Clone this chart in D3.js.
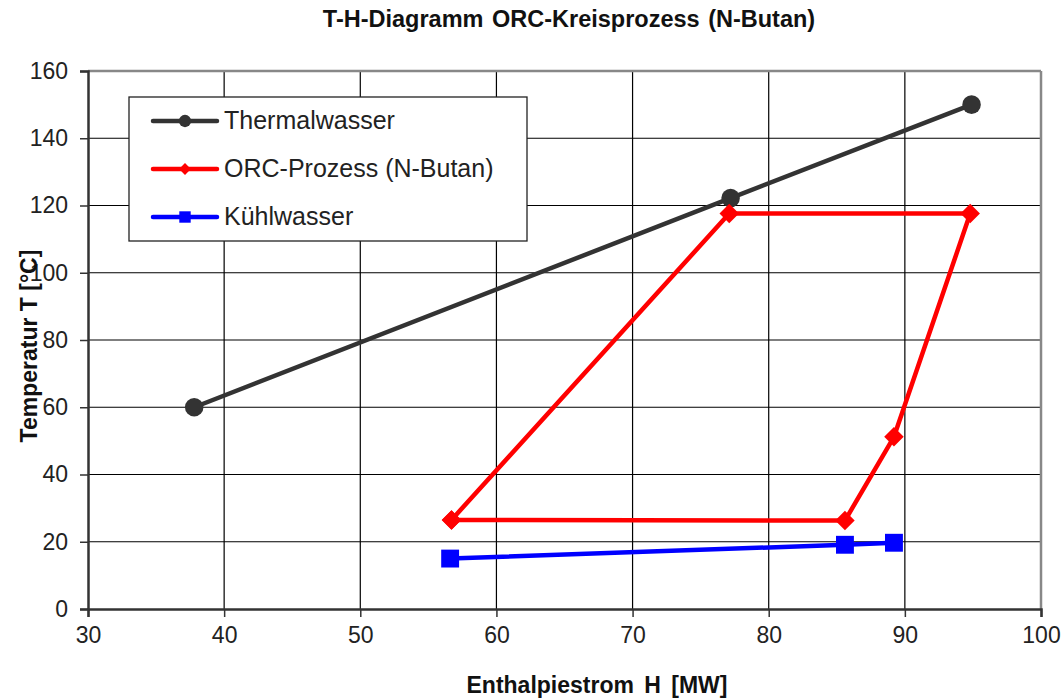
<!DOCTYPE html>
<html><head><meta charset="utf-8">
<script src="https://cdn.jsdelivr.net/npm/d3@7"></script>
<style>body{margin:0;background:#fff}svg{display:block}text{font-family:"Liberation Sans",Arial,sans-serif}</style>
</head><body>
<svg id="c" width="1062" height="698"></svg>
<script>
const xTicks = [30,40,50,60,70,80,90,100];
const yTicks = [0,20,40,60,80,100,120,140,160];
const thermalH = [37.8, 77.2, 94.9];
const thermalT = [60, 122.2, 150];
const orcH = [56.7, 77.1, 94.8, 89.2, 85.6, 56.7];
const orcT = [26.5, 117.6, 117.6, 51.2, 26.3, 26.5];
const coolH = [56.6, 85.6, 89.2];
const coolT = [15, 19.1, 19.7];
const seriesNames = ["Thermalwasser", "ORC-Prozess (N-Butan)", "Kühlwasser"];
const seriesColors = ["#333333", "#ff0000", "#0000ff"];

const svg = d3.select("#c");
const L=88, R=1041, T=71, B=609;
const x = d3.scaleLinear().domain([30,100]).range([L,R]);
const y = d3.scaleLinear().domain([0,160]).range([B,T]);

// grid
svg.append("g").selectAll("line").data(xTicks.slice(1,-1)).join("line")
  .attr("x1",d=>x(d)).attr("x2",d=>x(d)).attr("y1",T).attr("y2",B)
  .attr("stroke","#000").attr("stroke-width",1.2);
svg.append("g").selectAll("line").data(yTicks.slice(1,-1)).join("line")
  .attr("y1",d=>y(d)).attr("y2",d=>y(d)).attr("x1",L).attr("x2",R)
  .attr("stroke","#000").attr("stroke-width",1.2);
// border
svg.append("line").attr("x1",L).attr("x2",R).attr("y1",T).attr("y2",T).attr("stroke","#888").attr("stroke-width",2.5);
svg.append("line").attr("x1",R).attr("x2",R).attr("y1",T).attr("y2",B).attr("stroke","#888").attr("stroke-width",2.5);

// axes
const xa = svg.append("g").attr("transform",`translate(0,${B})`)
  .call(d3.axisBottom(x).tickValues(xTicks).tickSize(8).tickPadding(10));
const ya = svg.append("g").attr("transform",`translate(${L},0)`)
  .call(d3.axisLeft(y).tickValues(yTicks).tickSize(8).tickPadding(12));
[xa,ya].forEach(a=>{
  a.select(".domain").attr("stroke","#333").attr("stroke-width",2.5);
  a.selectAll(".tick line").attr("stroke","#333").attr("stroke-width",1.5);
  a.selectAll("text").attr("font-size",23).attr("fill","#222")
   .attr("font-family",'"Liberation Sans",Arial,sans-serif');
});

// titles
svg.append("text").attr("x",569).attr("y",27).attr("text-anchor","middle")
  .attr("font-size",23.5).attr("font-weight","bold").attr("fill","#111")
  .attr("word-spacing",2)
  .text("T-H-Diagramm ORC-Kreisprozess (N-Butan)");
svg.append("text").attr("x",597).attr("y",693).attr("text-anchor","middle")
  .attr("font-size",23).attr("font-weight","bold").attr("fill","#111")
  .attr("word-spacing",4)
  .text("Enthalpiestrom H [MW]");
svg.append("text").attr("transform","translate(37,346) rotate(-90)").attr("text-anchor","middle")
  .attr("font-size",23).attr("font-weight","bold").attr("fill","#111")
  .text("Temperatur T [°C]");

const line = d3.line().x(d=>x(d[0])).y(d=>y(d[1]));
const sets = [d3.zip(thermalH,thermalT), d3.zip(orcH,orcT), d3.zip(coolH,coolT)];
const shapes = [d3.symbolCircle, d3.symbolSquare, d3.symbolSquare];
const rots = [0, 45, 0];
const sizes = [270, 190, 320];
sets.forEach((pts,i)=>{
  svg.append("path").datum(pts).attr("d",line).attr("fill","none")
    .attr("stroke",seriesColors[i]).attr("stroke-width",4.5).attr("stroke-linejoin","round");
  svg.append("g").selectAll("path").data(pts).join("path")
    .attr("transform",d=>`translate(${x(d[0])},${y(d[1])}) rotate(${rots[i]})`)
    .attr("d",d3.symbol().type(shapes[i]).size(sizes[i])).attr("fill",seriesColors[i]);
});

// legend
const lg = svg.append("g");
lg.append("rect").attr("x",129).attr("y",97).attr("width",398).attr("height",144)
  .attr("fill","#fff").attr("stroke","#222").attr("stroke-width",1.3);
const lsizes=[120,70,130];
seriesNames.forEach((n,i)=>{
  const yy = 121 + i*48;
  lg.append("line").attr("x1",153).attr("x2",217).attr("y1",yy).attr("y2",yy)
    .attr("stroke",seriesColors[i]).attr("stroke-width",4.5).attr("stroke-linecap","round");
  lg.append("path").attr("transform",`translate(185,${yy}) rotate(${rots[i]})`)
    .attr("d",d3.symbol().type(shapes[i]).size(lsizes[i])).attr("fill",seriesColors[i]);
  lg.append("text").attr("x",224).attr("y",yy+8).attr("font-size",25).attr("fill","#222").text(n);
});
</script>
</body></html>
